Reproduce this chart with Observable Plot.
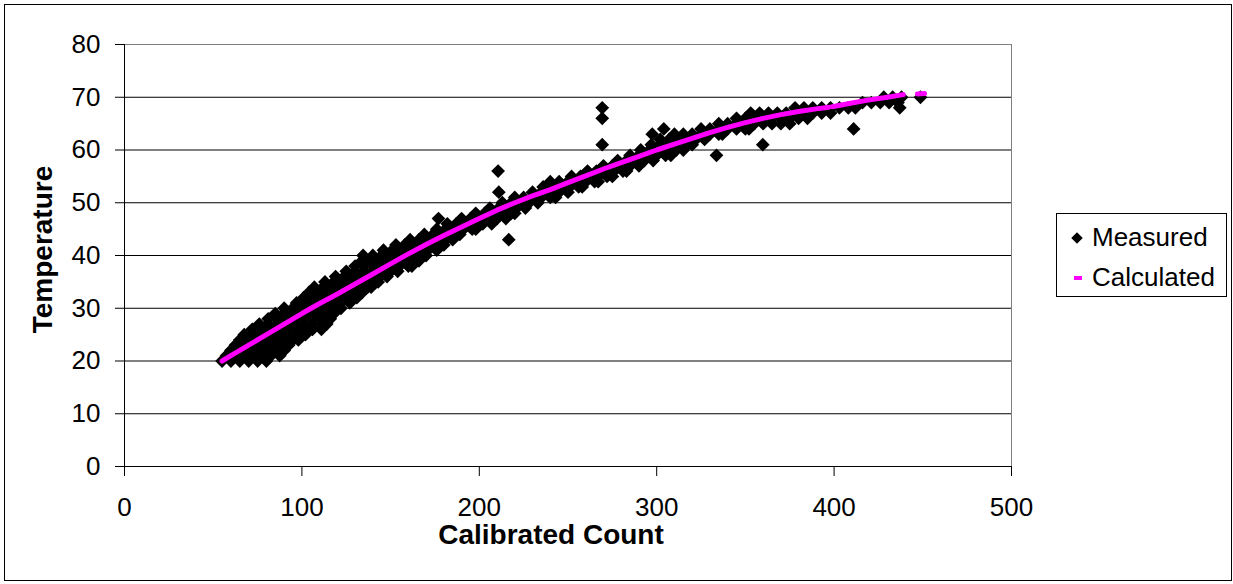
<!DOCTYPE html>
<html><head><meta charset="utf-8">
<script src="https://cdn.jsdelivr.net/npm/d3@7"></script>
<script src="https://cdn.jsdelivr.net/npm/@observablehq/plot@0.6"></script>
<style>
html,body{margin:0;padding:0;background:#fff;}
#wrap{position:relative;width:1233px;height:584px;overflow:hidden;font-family:"Liberation Sans",Arial,sans-serif;}
#chart{position:absolute;left:0;top:0;}
#border{position:absolute;left:4px;top:4px;width:1228px;height:577px;border:1px solid #000;box-sizing:border-box;pointer-events:none;}
#legend{position:absolute;left:1056px;top:213px;}
</style></head><body>
<div id="wrap"><div id="chart"></div><svg id="legend" width="172" height="84"></svg><div id="border"></div></div>
<script>
const xTicks = [0, 100, 200, 300, 400, 500];
const yTicks = [0, 10, 20, 30, 40, 50, 60, 70, 80];
const xTitle = "Calibrated Count";
const yTitle = "Temperature";
const seriesNames = ["Measured", "Calculated"];

// Measured: temperature levels and the calibrated counts read at each level
const measuredTemps = [20,21,22,23,24,25,26,27,28,29,30,31,32,33,34,35,36,37,38,39,40,41,42,43,44,45,46,47,48,49,50,51,52,53,54,55,56,57,58,59,60,61,62,63,64,65,66,67,68,69,70];
const measuredCounts = [
  [55,60,65,70,75,80],
  [57.5,62.5,67.5,72.5,77.5,82.5,87.5],
  [60,65,70,75,80,85,90],
  [62.5,67.5,72.5,77.5,82.5,87.5,92.5],
  [65,70,75,80,85,90,95,98],
  [67.5,72.5,77.5,82.5,87.5,92.5,97.5,102],
  [72,77,82,87,92,97,102,106,111],
  [76,81,86,91,96,101,106,111,114],
  [81,86,91,96,101,106,111,116],
  [85,90,95,100,105,110,115,118],
  [90,95,100,105,110,115,120,122],
  [97,102,107,112,117,122,127],
  [101,106,111,116,121,126,131],
  [104,109,114,119,124,129,134],
  [107,112,117,122,127,132,137,139],
  [113,118,123,128,133,138,143],
  [119,124,129,134,139,144,148],
  [125,130,135,140,145,150,154],
  [130,135,140,145,150,155,160,162],
  [134,139,144,149,154,159,164,166],
  [134.5,140,145,150,155,160,165,170],
  [146,151,156,161,166,171,176],
  [153,158,163,168,173,178,180],
  [161,166,171,176,181,185,216.6],
  [169,174,179,184,189],
  [176,181,186,191,196,198],
  [182,187,192,197,202,207],
  [177,190,195,200,205,210,215],
  [198,203,208,213,218,220],
  [206,211,216,221,226],
  [213,218,223,228,233],
  [220,225,230,235,240,243],
  [211,230,235,240,245,250],
  [236,241,246,251,256,258],
  [240,245,250,255,260,265,267],
  [252,257,262,267,272,275],
  [210.6,261,266,271,276,281,283],
  [270,275,280,285,290],
  [278,283,288,293,298],
  [285,290,295,300,305,308,333.7],
  [291,296,301,306,311,315],
  [269.3,297,302,307,312,317,320,359.8],
  [302,307,312,317,322,327],
  [297.5,310,315,320,325,330,335,337],
  [304,325,330,335,340,345,350,352,411],
  [335,340,345,350,355,360,365,370,375],
  [269.3,345,350,355,360,365,370,375,380,385],
  [353,358,363,368,373,378,383,388,393,398],
  [269.3,378,383,388,393,398,403,408,412,437],
  [416,421,426,431,436],
  [428,433,438,448.7]
];

// Calculated series
const calculatedX = [55,60,70,80,90,100,110,120,130,140,150,160,170,180,190,200,210,220,230,240,250,260,270,280,290,300,310,320,330,340,350,360,370,380,390,397,399,410,420,430,439,447,451];
const calculatedY = [20,21,23,25,27,29,30.9,32.7,34.6,36.5,38.4,40.3,42.1,43.8,45.4,47,48.6,50,51.3,52.5,53.8,55.1,56.4,57.6,58.8,60,61.1,62.2,63.3,64.3,65.2,66,66.7,67.3,67.8,68.1,68.2,68.9,69.5,70,70.5,70.6,70.7];
const calculatedPart = [1,1,1,1,1,1,1,1,1,1,1,1,1,1,1,1,1,1,1,1,1,1,1,1,1,1,1,1,1,1,1,1,1,1,1,1,2,2,2,2,2,3,3];

const measured = measuredTemps.flatMap((t, i) => measuredCounts[i].map(x => ({x, y: t})));
const calculated = calculatedX.map((x, i) => ({x, y: calculatedY[i], part: calculatedPart[i]}));

const font = '"Liberation Sans", Arial, sans-serif';
const markerR = 6.2;
const chart = Plot.plot({
  width: 1233, height: 584,
  marginLeft: 124, marginRight: 222, marginTop: 44, marginBottom: 118,
  style: {fontFamily: font, fontSize: "26px", color: "#000", background: "#fff", overflow: "visible"},
  x: {domain: [0, 500]},
  y: {domain: [0, 80]},
  marks: [
    Plot.frame({stroke: "#808080", strokeWidth: 1}),
    Plot.ruleY(yTicks.filter(v => v > 0 && v < 80), {stroke: "#000", strokeWidth: 1}),
    Plot.ruleY([0], {stroke: "#000", strokeWidth: 1}),
    Plot.ruleX([0], {stroke: "#000", strokeWidth: 1}),
    Plot.axisY(yTicks, {tickSize: 9, tickPadding: 15, label: null, stroke: "#000", fill: "#000", fontSize: 26}),
    Plot.axisX(xTicks, {tickSize: 10, tickPadding: 21, label: null, stroke: "#000", fill: "#000", fontSize: 26}),
    Plot.dot(measured, {x: "x", y: "y", symbol: "diamond2", r: markerR, fill: "#000", stroke: "none"}),
    Plot.line(calculated, {x: "x", y: "y", z: "part", stroke: "#FF00FF", strokeWidth: 5}),
    Plot.text([xTitle], {frameAnchor: "bottom", textAnchor: "middle", lineAnchor: "middle", dx: -17, dy: 69, fontWeight: "bold", fontSize: 28, fill: "#000"}),
    Plot.text([yTitle], {frameAnchor: "left", textAnchor: "middle", lineAnchor: "middle", rotate: -90, dx: -81, dy: -6, fontWeight: "bold", fontSize: 28, fill: "#000"})
  ]
});
document.getElementById("chart").appendChild(chart);

// Legend
const lg = d3.select("#legend");
lg.append("rect").attr("x", 0.5).attr("y", 0.5).attr("width", 170).attr("height", 83).attr("fill", "#fff").attr("stroke", "#000");
lg.append("path").attr("d", d3.symbol(d3.symbolDiamond2, Math.PI * 5.2 * 5.2)()).attr("transform", "translate(21,25)").attr("fill", "#000");
lg.append("rect").attr("x", 18).attr("y", 63).attr("width", 8).attr("height", 4).attr("fill", "#FF00FF");
lg.selectAll("text.lab").data(seriesNames).join("text").attr("class", "lab")
  .attr("x", 36).attr("y", (d, i) => i === 0 ? 33 : 73)
  .attr("font-family", font).attr("font-size", 26).attr("fill", "#000").text(d => d);
</script>
</body></html>
